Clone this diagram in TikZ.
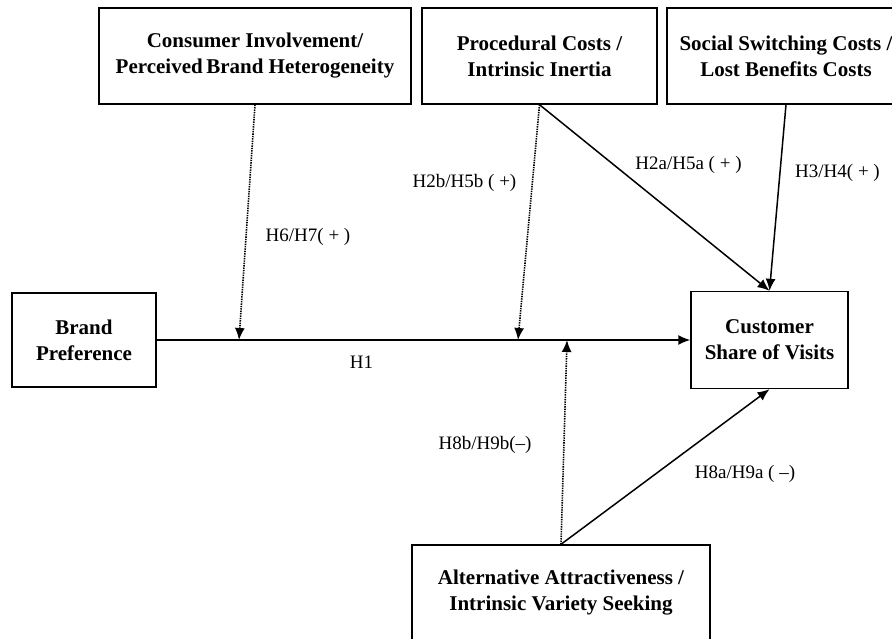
\documentclass[tikz,border=0pt]{standalone}
\usepackage{fontspec}
\setmainfont{Liberation Serif}
\usetikzlibrary{arrows.meta}

\begin{document}
\begin{tikzpicture}[x=1pt, y=-1pt, >={Latex[length=12pt,width=10pt]},
        every node/.style={font=\fontsize{19}{22}\selectfont},
        var/.style={draw, line width=1.4pt, align=center, inner sep=0pt, minimum height=96pt, font=\fontsize{21}{26}\selectfont\bfseries},
        link/.style={line width=1.5pt},
        moderation/.style={line width=1.6pt, dash pattern=on 1.4pt off 1pt}]

                \useasboundingbox (0,0) rectangle (892,639);
                \clip (0,0) rectangle (892,639);

                % Nodes
                \node at (255,56) (involve) [var, minimum width=312pt] {Consumer Involvement/\\Perceived\,Brand Heterogeneity};
                \node at (539.5,56) (procedural) [var, minimum width=235pt] {Procedural Costs /\\Intrinsic Inertia};
                \node at (786,56) (social) [var, minimum width=238pt] {Social Switching Costs /\\Lost Benefits Costs};
                \node at (84,340) (brand) [var, minimum width=144pt, minimum height=94pt] {Brand\\Preference};
                \node at (769.5,340) (share) [var, minimum width=157pt, minimum height=97pt] {Customer\\Share of Visits};
                \node at (561,593) (alternative) [var, minimum width=298pt] {Alternative Attractiveness /\\Intrinsic Variety Seeking};

                % Points on the H1 path
                \coordinate (m1) at (239,340);
                \coordinate (m2) at (518,340);
                \coordinate (m3) at (567,340);

                % Labels
                \node at (361.5,362) (h1) {H1};
                \node at (308,237) (h67) {H6/H7( + )};
                \node at (464.5,183) (h2b) {H2b/H5b ( +)};
                \node at (688.5,165) (h2a) {H2a/H5a ( + )};
                \node at (837.5,173) (h34) {H3/H4( + )};
                \node at (485,445) (h8b) {H8b/H9b(–)};
                \node at (745,474) (h8a) {H8a/H9a ( –)};

                % Arrows
                \draw[->, link] (brand) -- (share);
                \draw[->, link] (procedural.south) -- (share.north);
                \draw[->, link] (social.south) -- (share.north);
                \draw[->, link] (alternative.north) -- (share.south);
                \draw[->, moderation] (involve.south) -- (m1);
                \draw[->, moderation] (procedural.south) -- (m2);
                \draw[->, moderation] (alternative.north) -- (m3);

            \end{tikzpicture}
\end{document}
